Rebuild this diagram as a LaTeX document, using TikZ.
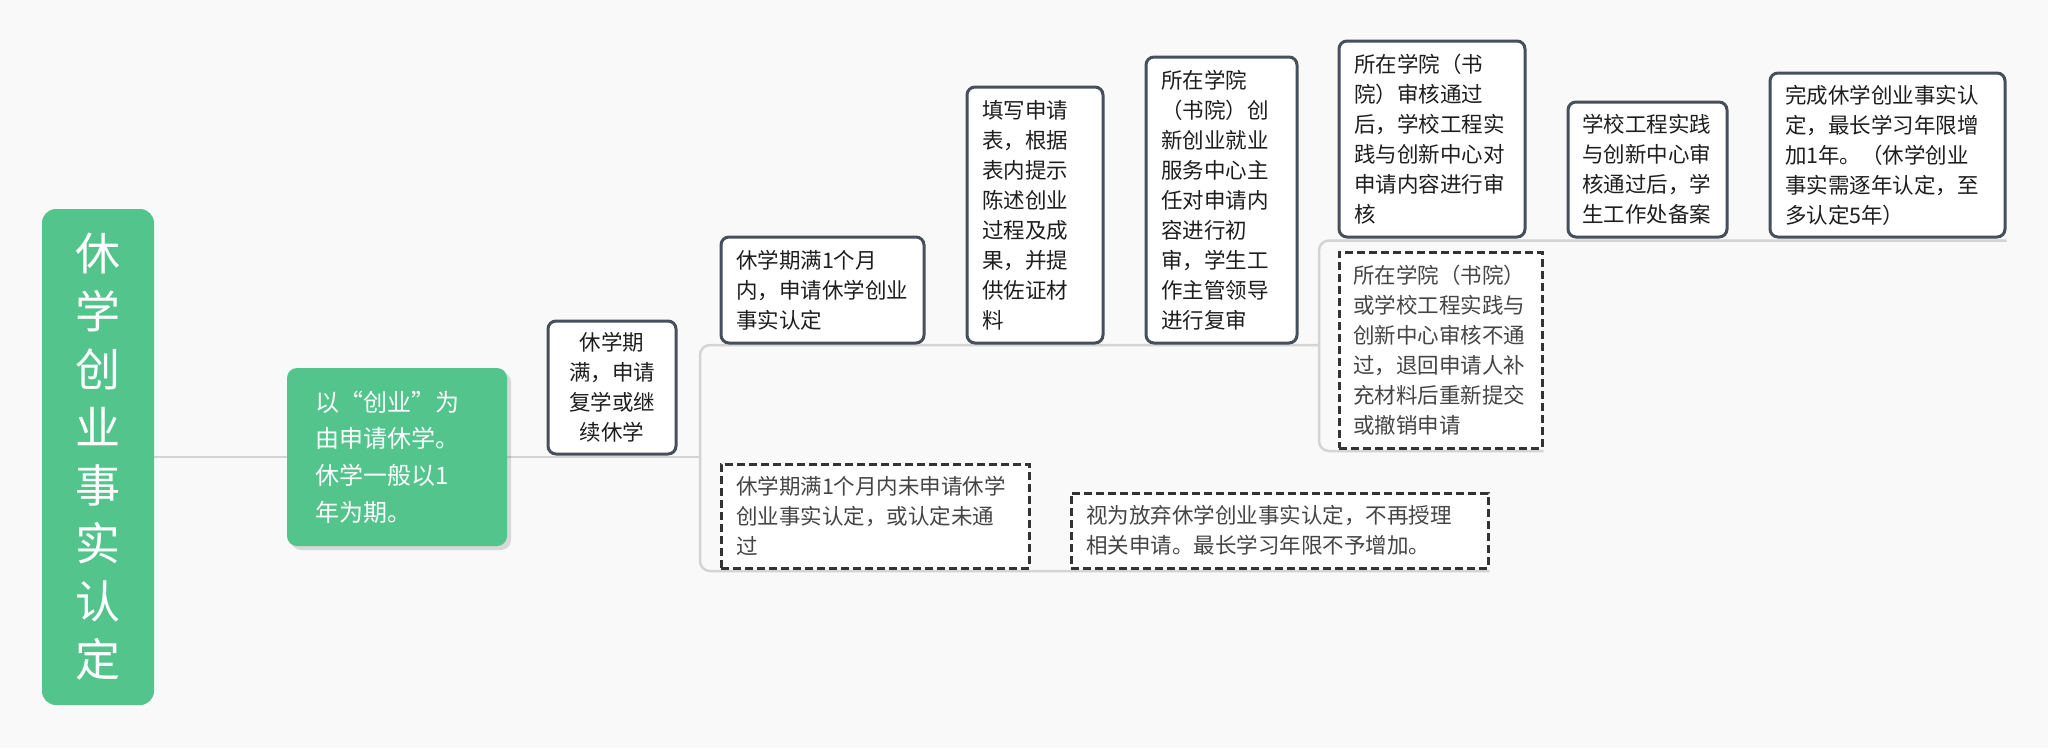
\documentclass[tikz,border=0pt]{standalone}
\usepackage{fontspec}
\setmainfont{Noto Sans CJK SC}
\usetikzlibrary{shadows}
\definecolor{bgc}{HTML}{F9F9F9}
\definecolor{grn}{HTML}{52C48C}
\definecolor{lnc}{HTML}{D4D4D4}
\definecolor{bdc}{HTML}{464F5A}
\definecolor{dsc}{HTML}{333333}
\definecolor{txc}{HTML}{1E1E1E}
\definecolor{dtc}{HTML}{454545}
\pgfdeclarelayer{bg}
\pgfdeclarelayer{lines}
\pgfsetlayers{bg,lines,main}
\tikzset{
 conn/.style={draw=lnc, line width=2.5pt, rounded corners=10pt},
 rootbox/.style={fill=grn, rounded corners=14pt, text=white, font=\fontsize{45}{58}\selectfont, align=center, inner sep=0pt, minimum width=112pt, minimum height=496pt},
 greenbox/.style={fill=grn, rounded corners=10pt, text=white, font=\fontsize{24}{36.7}\selectfont, align=left, inner xsep=28pt, inner ysep=0pt, text width=164pt, minimum height=178pt, drop shadow={shadow xshift=4pt, shadow yshift=-4pt, fill=black, opacity=0.13}},
 solidbox/.style={draw=bdc, line width=3pt, rounded corners=8pt, fill=white, text=txc, font=\fontsize{21.5}{30}\selectfont, align=left, inner xsep=15pt, inner ysep=0pt},
 dashbox/.style={draw=dsc, line width=3pt, dash pattern=on 8pt off 4pt, fill=white, text=dtc, font=\fontsize{21.5}{30}\selectfont, align=left, inner xsep=15pt, inner ysep=0pt},
}
\begin{document}
\begin{tikzpicture}[x=1pt,y=-1pt]
\begin{pgfonlayer}{bg}
\fill[bgc] (0,0) rectangle (2048,748);
\end{pgfonlayer}
\useasboundingbox (0,0) rectangle (2048,748);

\node[rootbox] (root) at (98,457) {休\\学\\创\\业\\事\\实\\认\\定};
\node[greenbox] (n1) at (397,457) {以“创业”为\\由申请休学。\\休学一般以1\\年为期。};
\node[solidbox, align=center, text width=98pt, minimum height=133pt] (n2) at (612,387.5) {休学期\\满，申请\\复学或继\\续休学};

\node[solidbox, text width=173pt, minimum height=106pt] (a1) at (822.5,290) {休学期满1个月\\内，申请休学创业\\事实认定};
\node[solidbox, text width=106pt, minimum height=256pt] (a2) at (1035,215) {填写申请\\表，根据\\表内提示\\陈述创业\\过程及成\\果，并提\\供佐证材\\料};
\node[solidbox, text width=121pt, minimum height=286pt] (a3) at (1221.5,200) {所在学院\\（书院）创\\新创业就业\\服务中心主\\任对申请内\\容进行初\\审，学生工\\作主管领导\\进行复审};

\node[solidbox, text width=156pt, minimum height=196pt] (c1) at (1432,139) {所在学院（书\\院）审核通过\\后，学校工程实\\践与创新中心对\\申请内容进行审\\核};
\node[solidbox, inner xsep=14pt, text width=131pt, minimum height=135pt] (c2) at (1647.5,169.5) {学校工程实践\\与创新中心审\\核通过后，学\\生工作处备案};
\node[solidbox, text width=205pt, minimum height=164pt] (c3) at (1887.5,155) {完成休学创业事实认\\定，最长学习年限增\\加1年。（休学创业\\事实需逐年认定，至\\多认定5年）};

\node[dashbox, inner xsep=14pt, text width=175pt, minimum height=196pt] (b1) at (1440.5,350) {所在学院（书院）\\或学校工程实践与\\创新中心审核不通\\过，退回申请人补\\充材料后重新提交\\或撤销申请};

\node[dashbox, text width=278pt, minimum height=104pt] (d1) at (875,516) {休学期满1个月内未申请休学\\创业事实认定，或认定未通\\过};
\node[dashbox, text width=387pt, minimum height=75pt] (d2) at (1279.5,530.5) {视为放弃休学创业事实认定，不再授理\\相关申请。最长学习年限不予增加。};

\coordinate (j1) at (700,457);
\coordinate (j2) at (1319,345);

\begin{pgfonlayer}{lines}
\draw[conn] (root.east) -- (n1.west);
\draw[conn] (n1.east) -- (j1);
\draw[conn] (j1) |- (j2);
\draw[conn] (j1) |- ([yshift=-1.5pt]d2.south east);
\draw[conn] (j2) |- ([yshift=-2pt]c3.south east);
\draw[conn] (j2) |- ([yshift=-1.5pt]b1.south east);
\end{pgfonlayer}
\end{tikzpicture}
\end{document}
